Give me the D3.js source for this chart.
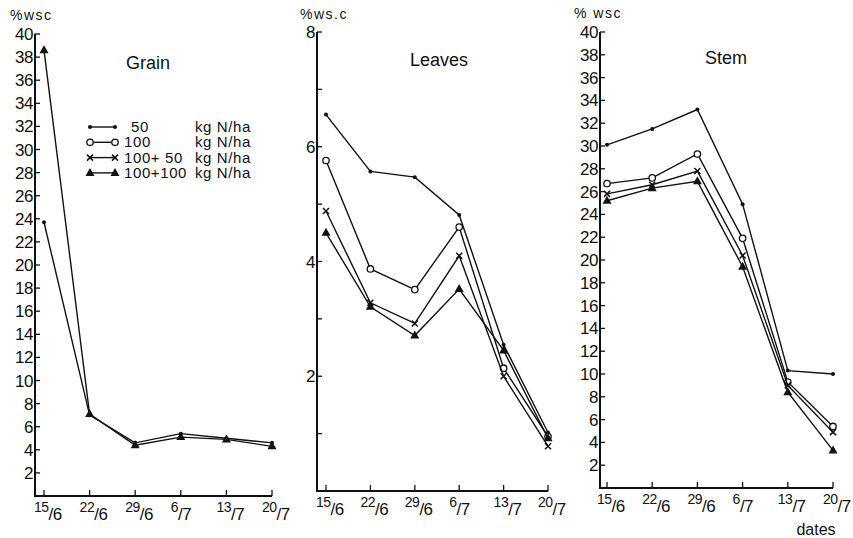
<!DOCTYPE html>
<html>
<head>
<meta charset="utf-8">
<script src="https://cdn.jsdelivr.net/npm/d3@7"></script>
<style>
  body { margin: 0; background: #fff; }
  text { font-family: "Liberation Sans", "DejaVu Sans", sans-serif; fill: #111; }
</style>
</head>
<body>
<svg id="chart" width="853" height="538"></svg>
<script>
// sampling dates (day / month)
const dates = ["15/6", "22/6", "29/6", "6/7", "13/7", "20/7"];
const seriesNames = ["50", "100", "100+ 50", "100+100"];
const seriesMarks = ["dot", "circle", "cross", "triangle"];

// grain: only two treatments drawn
const grain50 = [23.7, 7.0, 4.6, 5.4, 5.0, 4.6];
const grain100x100 = [38.6, 7.1, 4.4, 5.1, 4.9, 4.3];

// leaves
const leaves50 = [6.56, 5.57, 5.47, 4.81, 2.55, 1.02];
const leaves100 = [5.76, 3.87, 3.51, 4.60, 2.14, 0.95];
const leaves100x50 = [4.88, 3.28, 2.92, 4.10, 2.00, 0.78];
const leaves100x100 = [4.50, 3.21, 2.71, 3.52, 2.45, 0.92];

// stem
const stem50 = [30.1, 31.5, 33.2, 24.9, 10.3, 10.0];
const stem100 = [26.7, 27.2, 29.3, 21.9, 9.3, 5.4];
const stem100x50 = [25.8, 26.6, 27.8, 20.4, 9.0, 4.9];
const stem100x100 = [25.2, 26.3, 26.9, 19.4, 8.4, 3.3];

const grainTicks = d3.range(2, 41, 2);
const leavesTicks = [2, 4, 6, 8];
const leavesMinor = [1, 3, 5, 7];
const stemTicks = d3.range(2, 41, 2);

const svg = d3.select("#chart");

const panels = [
  { title: "Grain", ylab: "%wsc", axisX: 35, xr: [44, 272], ymax: 40, yr: [496, 34],
    ticks: grainTicks, minor: [], titleX: 148, titleY: 69, ylabX: 10, ylabY: 20,
    series: [{ v: grain50, m: "dot" }, { v: grain100x100, m: "triangle" }] },
  { title: "Leaves", ylab: "%ws.c", axisX: 317, xr: [326, 548], ymax: 8, yr: [491, 32],
    ticks: leavesTicks, minor: leavesMinor, titleX: 439, titleY: 66, ylabX: 300, ylabY: 19,
    series: [{ v: leaves50, m: "dot" }, { v: leaves100, m: "circle" },
             { v: leaves100x50, m: "cross" }, { v: leaves100x100, m: "triangle" }] },
  { title: "Stem", ylab: "% wsc", axisX: 600, xr: [607, 833], ymax: 40, yr: [488, 32],
    ticks: stemTicks, minor: [], titleX: 726, titleY: 64, ylabX: 574, ylabY: 18,
    series: [{ v: stem50, m: "dot" }, { v: stem100, m: "circle" },
             { v: stem100x50, m: "cross" }, { v: stem100x100, m: "triangle" }] }
];

function drawMark(g, kind, cx, cy) {
  if (kind === "dot") {
    g.append("circle").attr("cx", cx).attr("cy", cy).attr("r", 2).attr("fill", "#111");
  } else if (kind === "circle") {
    g.append("circle").attr("cx", cx).attr("cy", cy).attr("r", 3.2)
      .attr("fill", "#fff").attr("stroke", "#111").attr("stroke-width", 1.3);
  } else if (kind === "cross") {
    g.append("path").attr("d", `M${cx-3},${cy-3}L${cx+3},${cy+3}M${cx-3},${cy+3}L${cx+3},${cy-3}`)
      .attr("stroke", "#111").attr("stroke-width", 1.5);
  } else {
    g.append("path").attr("d", `M${cx},${cy-5}L${cx+4.5},${cy+3}L${cx-4.5},${cy+3}Z`)
      .attr("fill", "#111");
  }
}

panels.forEach(p => {
  const x = d3.scalePoint().domain(dates).range(p.xr);
  const y = d3.scaleLinear().domain([0, p.ymax]).range(p.yr);
  const g = svg.append("g");

  // y axis
  g.append("line").attr("x1", p.axisX).attr("x2", p.axisX)
    .attr("y1", y(0)).attr("y2", y(p.ymax)).attr("stroke", "#111").attr("stroke-width", 2);
  g.selectAll(".yt").data(p.ticks.concat(p.minor)).enter().append("line")
    .attr("x1", p.axisX).attr("x2", p.axisX + 5)
    .attr("y1", d => y(d)).attr("y2", d => y(d))
    .attr("stroke", "#111").attr("stroke-width", 1.3);
  g.selectAll(".yl").data(p.ticks).enter().append("text")
    .attr("x", p.axisX - 2).attr("y", d => y(d) + 6)
    .attr("text-anchor", "end").attr("font-size", 17).attr("letter-spacing", -0.5)
    .text(d => d);

  // x axis
  g.append("line").attr("x1", p.axisX - 1).attr("x2", p.xr[1])
    .attr("y1", y(0)).attr("y2", y(0)).attr("stroke", "#111").attr("stroke-width", 2);
  g.selectAll(".xt").data(dates).enter().append("line")
    .attr("x1", d => x(d)).attr("x2", d => x(d))
    .attr("y1", y(0)).attr("y2", y(0) - 6)
    .attr("stroke", "#111").attr("stroke-width", 1.3);
  const xl = g.selectAll(".xl").data(dates).enter().append("text")
    .attr("x", d => x(d) - 10).attr("y", y(0) + 16).attr("font-size", 14)
    .attr("letter-spacing", -0.5);
  xl.append("tspan").text(d => d.split("/")[0]);
  xl.append("tspan").attr("dy", 8).attr("font-size", 17).text(d => "/" + d.split("/")[1]);

  // labels
  g.append("text").attr("x", p.ylabX).attr("y", p.ylabY).attr("font-size", 14)
    .attr("letter-spacing", 1.5).text(p.ylab);
  g.append("text").attr("x", p.titleX).attr("y", p.titleY).attr("text-anchor", "middle")
    .attr("font-size", 18).text(p.title);

  // series
  const line = d3.line().x((d, i) => x(dates[i])).y(d => y(d));
  p.series.forEach(s => {
    g.append("path").datum(s.v).attr("d", line)
      .attr("fill", "none").attr("stroke", "#111").attr("stroke-width", 1.4);
    s.v.forEach((v, i) => drawMark(g, s.m, x(dates[i]), y(v)));
  });
});

// legend in grain panel
const lg = svg.append("g");
seriesNames.forEach((name, i) => {
  const yy = 127 + i * 15.3;
  lg.append("line").attr("x1", 90).attr("x2", 115).attr("y1", yy).attr("y2", yy)
    .attr("stroke", "#111").attr("stroke-width", 1.4);
  drawMark(lg, seriesMarks[i], 90, yy);
  drawMark(lg, seriesMarks[i], 115, yy);
  lg.append("text").attr("x", i === 0 ? 131 : 124).attr("y", yy + 5).attr("font-size", 15)
    .attr("letter-spacing", 0.6).text(name);
  lg.append("text").attr("x", 195).attr("y", yy + 5).attr("font-size", 15)
    .attr("letter-spacing", 0.6).text("kg N/ha");
});

svg.append("text").attr("x", 816).attr("y", 535).attr("text-anchor", "middle")
  .attr("font-size", 16).text("dates");
</script>
</body>
</html>
